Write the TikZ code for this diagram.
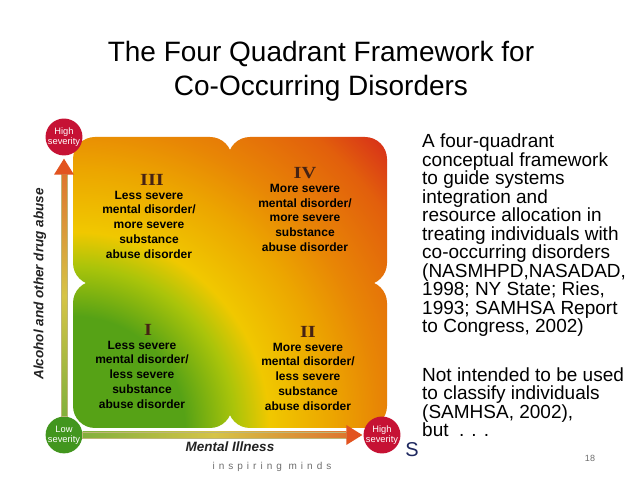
\documentclass[tikz,border=0pt]{standalone}
\usepackage{fontspec}
\setmainfont{Liberation Sans}
\newfontfamily\numfont[FakeStretch=1.2]{Liberation Serif}
\newfontfamily\trackfont[LetterSpace=40]{Liberation Sans}
\usetikzlibrary{positioning, calc}

\definecolor{qgreen}{RGB}{86,162,22}
\definecolor{qlime}{RGB}{170,196,10}
\definecolor{qyellow}{RGB}{240,200,0}
\definecolor{qamber}{RGB}{236,166,0}
\definecolor{qorange}{RGB}{232,134,5}
\definecolor{qdeep}{RGB}{226,95,12}
\definecolor{qred}{RGB}{212,32,30}
\definecolor{numbrown}{RGB}{70,35,20}
\definecolor{sevred}{RGB}{198,18,52}
\definecolor{sevgreen}{RGB}{66,150,30}
\definecolor{bargreen}{RGB}{130,176,60}
\definecolor{baryellow}{RGB}{214,196,70}
\definecolor{barorange}{RGB}{222,118,46}
\definecolor{barrim}{RGB}{190,182,120}
\definecolor{headred}{RGB}{226,84,32}
\definecolor{axisgray}{RGB}{35,35,35}
\definecolor{footgray}{RGB}{110,110,110}
\definecolor{logonavy}{RGB}{30,40,95}

% radial ramp from the lower left corner (1bp ~ 17pt on the picture)
\pgfdeclareradialshading{quadfill}{\pgfpoint{0bp}{0bp}}{color(0bp)=(qgreen); color(6.5bp)=(qgreen); color(9.4bp)=(qlime); color(11.4bp)=(qyellow); color(15bp)=(qamber); color(17.8bp)=(qorange); color(22bp)=(qdeep); color(25.5bp)=(qred); color(100bp)=(qred)}
\pgfdeclareverticalshading{axisv}{100bp}{color(0bp)=(bargreen); color(25bp)=(bargreen); color(50bp)=(baryellow); color(75bp)=(barorange); color(100bp)=(barorange)}
\pgfdeclarehorizontalshading{axish}{100bp}{color(0bp)=(bargreen); color(25bp)=(bargreen); color(50bp)=(baryellow); color(75bp)=(barorange); color(100bp)=(barorange)}

\begin{document}
\begin{tikzpicture}[x=1pt, y=1pt,
  quad/.style={rounded corners=22pt},
  sev/.style={circle, minimum size=35pt, inner sep=0pt, align=center, text=white,
              font=\fontsize{9.3}{10}\selectfont},
  roman/.style={font=\numfont\fontsize{17}{17}\selectfont\bfseries, text=numbrown, inner sep=1pt},
  qtext/.style={font=\fontsize{12}{14.7}\selectfont\bfseries, align=center, inner sep=1pt},
  axislbl/.style={font=\fontsize{13.5}{13.5}\selectfont\bfseries\itshape, text=axisgray},
  body/.style={font=\fontsize{19}{18.5}\selectfont, align=left, inner sep=0pt}
]
\fill[white] (0,0) rectangle (638,479);
\useasboundingbox (0,0) rectangle (638,479);

% Title
\node[font=\fontsize{28}{34}\selectfont, align=center] (title) at (321,408)
  {The Four Quadrant Framework for\\Co-Occurring Disorders};

% Quadrant field
\begin{scope}
  \clip[quad]
    (73,194) rectangle (232,342) (228,194) rectangle (387,342)
    (73,51) rectangle (232,198) (228,51) rectangle (387,198)
    (205,171) rectangle (255,221);
  \shade[shading=quadfill] (-357,-379) rectangle (503,481);
\end{scope}

% Quadrant labels
\node[roman] (n3) at (152,299) {III};
\node[qtext, below=3pt of n3, xshift=-3pt] (q3) {Less severe\\mental disorder/\\more severe\\substance\\abuse disorder};
\node[roman] (n4) at (305,306) {IV};
\node[qtext, below=3pt of n4] (q4) {More severe\\mental disorder/\\more severe\\substance\\abuse disorder};
\node[roman] (n1) at (148,149) {I};
\node[qtext, below=3pt of n1, xshift=-6pt] (q1) {Less severe\\mental disorder/\\less severe\\substance\\abuse disorder};
\node[roman] (n2) at (308,147) {II};
\node[qtext, below=3pt of n2] (q2) {More severe\\mental disorder/\\less severe\\substance\\abuse disorder};

% Severity ends
\node[sev, fill=sevred] (hiy) at (64,342) {High\\severity};
\node[sev, fill=sevgreen] (lowsev) at (64,44) {Low\\severity};
\node[sev, fill=sevred] (hix) at (382,44) {High\\severity};

% Axes
\shade[shading=axisv, draw=barrim, line width=0.6pt]
  ($(lowsev.north)+(-3,0)$) rectangle ($(hiy.south)+(3,-19)$);
\fill[headred] ($(hiy.south)+(-10,-19)$) -- ($(hiy.south)+(0,-3)$) -- ($(hiy.south)+(10,-19)$) -- cycle;
\shade[shading=axish, draw=barrim, line width=0.6pt]
  ($(lowsev.east)+(0,-3)$) rectangle ($(hix.west)+(-17,3)$);
\fill[headred] ($(hix.west)+(-17,-10)$) -- ($(hix.west)+(-1,0)$) -- ($(hix.west)+(-17,10)$) -- cycle;

\node[axislbl, rotate=90] (ylab) at (40,195) {Alcohol and other drug abuse};
\node[axislbl] (xlab) at (230,32) {Mental Illness};

% Side text
\node[body, anchor=north west] (p1) at (422,345) {A four-quadrant\\conceptual framework\\to guide systems\\integration and\\resource allocation in\\treating individuals with\\co-occurring disorders\\(NASMHPD,NASADAD,\\1998; NY State; Ries,\\1993; SAMHSA Report\\to Congress, 2002)};
\node[body, below=30pt of p1.south west, anchor=north west] (p2) {Not intended to be used\\to classify individuals\\(SAMHSA, 2002),\\but\ \ . . .};

% Footer
\node[font=\trackfont\fontsize{10}{10}\selectfont, text=footgray] (tag) at (272,12) {inspiring minds};
\node[font=\fontsize{20}{20}\selectfont, text=logonavy] (logo) at (412,29) {S};
\node[font=\fontsize{9}{9}\selectfont, text=footgray] (pg) at (590,21) {18};
\end{tikzpicture}
\end{document}
